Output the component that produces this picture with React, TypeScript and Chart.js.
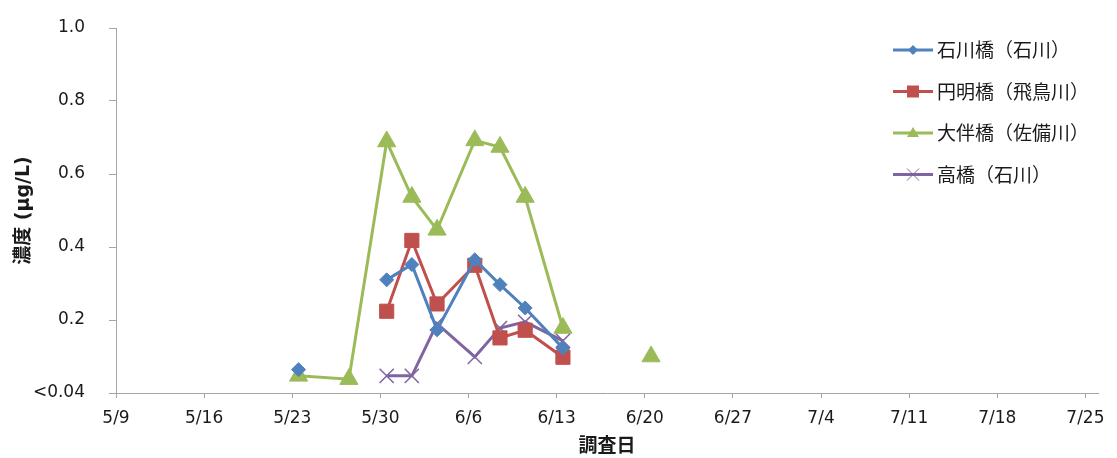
import React, { useEffect, useRef } from 'react';
import { Chart, registerables } from 'chart.js';

Chart.register(...registerables);

// ---- data ----
const sampleDates = ["5/23", "5/27", "5/30", "6/1", "6/3", "6/6", "6/8", "6/10", "6/13", "6/17", "6/20"];
const ishikawaBridge = [0.064, null, 0.310, 0.352, 0.173, 0.365, 0.297, 0.233, 0.123, null, null];
const enmyoBridge = [null, null, 0.224, 0.418, 0.244, 0.350, 0.151, 0.172, 0.098, null, null];
const ohtomoBridge = [0.047, 0.038, 0.689, 0.537, 0.447, 0.692, 0.674, 0.537, 0.178, null, 0.100];
const takaBridge = [null, null, 0.047, 0.047, 0.190, 0.099, 0.178, 0.195, 0.143, null, null];
const seriesNames = ["石川橋（石川）", "円明橋（飛鳥川）", "大伴橋（佐備川）", "高橋（石川）"];
const xTickLabels = ["5/9", "5/16", "5/23", "5/30", "6/6", "6/13", "6/20", "6/27", "7/4", "7/11", "7/18", "7/25"];
const yTickValues = [0, 0.2, 0.4, 0.6, 0.8, 1.0];
const yTickLabels = ["<0.04", "0.2", "0.4", "0.6", "0.8", "1.0"];
const xTitle = "調査日";
const yTitle = "濃度 (μg/L)";

const COLORS = ["#4F81BD", "#C0504D", "#9BBB59", "#8064A2"];
const STYLES = ["rectRot", "rect", "triangle", "crossRot"];
const RADII = [7, 10, 10.5, 10];

const dayIndex = (s: string) => {
  const [m, d] = s.split('/').map(Number);
  return (Date.UTC(2000, m - 1, d) - Date.UTC(2000, 4, 9)) / 86400000;
};

const toPoints = (vals: (number | null)[]) =>
  sampleDates.map((d, i) => ({ x: dayIndex(d), y: vals[i] }));

const FONT = '"DejaVu Sans", "Noto Sans CJK JP", sans-serif';

const legendPlugin = {
  id: 'customLegend',
  afterDraw(chart: any) {
    const ctx = chart.ctx as CanvasRenderingContext2D;
    ctx.save();
    chart.data.datasets.forEach((ds: any, i: number) => {
      const y = 50 + i * 41.5;
      const cx = 913;
      const col = COLORS[i];
      ctx.strokeStyle = col;
      ctx.lineWidth = 3;
      ctx.beginPath();
      ctx.moveTo(893, y);
      ctx.lineTo(933, y);
      ctx.stroke();
      ctx.fillStyle = col;
      ctx.beginPath();
      if (i === 0) {
        ctx.moveTo(cx, y - 5); ctx.lineTo(cx + 5, y); ctx.lineTo(cx, y + 5); ctx.lineTo(cx - 5, y); ctx.closePath(); ctx.fill();
      } else if (i === 1) {
        ctx.rect(cx - 6, y - 6, 12, 12); ctx.fill();
      } else if (i === 2) {
        ctx.moveTo(cx, y - 6); ctx.lineTo(cx + 6, y + 4); ctx.lineTo(cx - 6, y + 4); ctx.closePath(); ctx.fill();
      } else {
        ctx.lineWidth = 1;
        ctx.moveTo(cx - 6, y - 6); ctx.lineTo(cx + 6, y + 6);
        ctx.moveTo(cx + 6, y - 6); ctx.lineTo(cx - 6, y + 6);
        ctx.stroke();
      }
      ctx.fillStyle = '#1a1a1a';
      ctx.font = '19px "Noto Sans CJK JP", sans-serif';
      ctx.textBaseline = 'middle';
      ctx.textAlign = 'left';
      ctx.fillText(ds.label, 937, y);
    });
    ctx.restore();
  },
};

export default function App() {
  const ref = useRef<HTMLCanvasElement | null>(null);
  useEffect(() => {
    if (!ref.current) return;
    const all = [ishikawaBridge, enmyoBridge, ohtomoBridge, takaBridge];
    const chart = new Chart(ref.current, {
      type: 'line',
      data: {
        datasets: all.map((vals, i) => ({
          label: seriesNames[i],
          data: toPoints(vals) as any,
          borderColor: COLORS[i],
          backgroundColor: COLORS[i],
          borderWidth: 3,
          pointStyle: STYLES[i] as any,
          pointRadius: RADII[i],
          pointBorderWidth: i === 3 ? 1.5 : 1,
          pointBorderColor: COLORS[i],
          pointBackgroundColor: COLORS[i],
          tension: 0,
          spanGaps: false,
        })),
      },
      plugins: [legendPlugin],
      options: {
        responsive: false,
        devicePixelRatio: 1,
        animation: false,
        layout: { padding: { top: 28, right: 19, left: 0, bottom: 0 } },
        plugins: { legend: { display: false }, tooltip: { enabled: false } },
        scales: {
          x: {
            type: 'linear',
            min: -0.5,
            max: 77.5,
            afterBuildTicks: (scale: any) => {
              scale.ticks = xTickLabels.map((_, k) => ({ value: -0.5 + 7 * k }));
            },
            afterFit: (scale: any) => { scale.height = 65; },
            ticks: {
              callback: (_v: any, idx: number) => xTickLabels[idx],
              font: { family: FONT, size: 17 },
              color: '#1a1a1a',
              padding: 10,
              maxRotation: 0,
              autoSkip: false,
            },
            grid: { drawOnChartArea: false, color: '#A6A6A6', tickLength: 5 },
            border: { color: '#A6A6A6', width: 1 },
            title: {
              display: true,
              text: xTitle,
              font: { family: FONT, size: 19, weight: 'bold' },
              color: '#1a1a1a',
              padding: { top: 0, bottom: 0 },
            },
          },
          y: {
            type: 'linear',
            min: 0,
            max: 1,
            afterBuildTicks: (scale: any) => {
              scale.ticks = yTickValues.map((v) => ({ value: v }));
            },
            afterFit: (scale: any) => {
              scale.width = 116;
              scale.paddingTop = 0;
              scale.paddingBottom = 0;
            },
            ticks: {
              callback: (_v: any, idx: number) => yTickLabels[idx],
              font: { family: FONT, size: 17 },
              color: '#1a1a1a',
              padding: 24,
            },
            grid: { drawOnChartArea: false, color: '#A6A6A6', tickLength: 7 },
            border: { color: '#A6A6A6', width: 1 },
            title: {
              display: true,
              text: yTitle,
              font: { family: FONT, size: 19, weight: 'bold' },
              color: '#1a1a1a',
              padding: { top: 13, bottom: 0 },
            },
          },
        },
      },
    });
    return () => chart.destroy();
  }, []);
  return (
    <div style={{ position: 'absolute', left: 0, top: 0, width: 1117, height: 458 }}>
      <canvas ref={ref} width={1117} height={458} />
    </div>
  );
}
